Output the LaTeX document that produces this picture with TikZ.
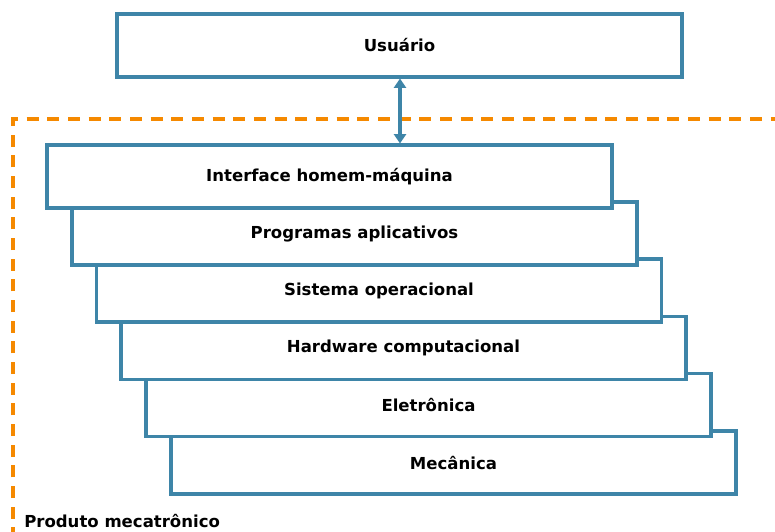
\documentclass[tikz,border=0pt]{standalone}
\usepackage{fontspec}
\setmainfont{DejaVu Sans}
\usetikzlibrary{arrows.meta}
\definecolor{layerblue}{RGB}{62,133,168}
\definecolor{prodorange}{RGB}{245,137,0}
\begin{document}
\begin{tikzpicture}[x=0.75pt,y=-0.75pt,
  lbl/.style={font=\fontsize{12.4}{14}\selectfont\bfseries},
  layer/.style={lbl, draw=layerblue, line width=2.3pt, fill=white, minimum width=565*0.75pt,
    minimum height=63*0.75pt, inner sep=0pt},
  frame/.style={draw=prodorange, line width=2.3pt, dash pattern=on 9pt off 6.5pt},
  link/.style={draw=layerblue, line width=2.3pt, {Triangle[width=9pt,length=7pt]}-{Triangle[width=9pt,length=7pt]}}]
\useasboundingbox (0,0) rectangle (775,532);
% product boundary (runs past the page edge on right and bottom)
\draw[frame] (13,560) -- (13,119) -- (800,119);
% user box
\node[layer] (user) at (399.5,45.5) {Usuário};
% layer stack, drawn from the bottom up so upper layers overlap lower ones
\node[layer] (mec) at (453.5,462.5) {Mecânica};
\node[layer] (ele) at (428.5,405) {Eletrônica};
\node[layer] (hw)  at (403.5,348) {Hardware computacional};
\node[layer] (so)  at (379,290.5) {Sistema operacional};
\node[layer] (app) at (354.5,233.5) {Programas aplicativos};
\node[layer] (ihm) at (329.5,176.5) {Interface homem-máquina};
\draw[link] (user.south -| 400,0) -- (ihm.north -| 400,0);
\node[lbl, anchor=base west, inner sep=0pt] (prod) at (24,527) {Produto mecatrônico};
\end{tikzpicture}
\end{document}
